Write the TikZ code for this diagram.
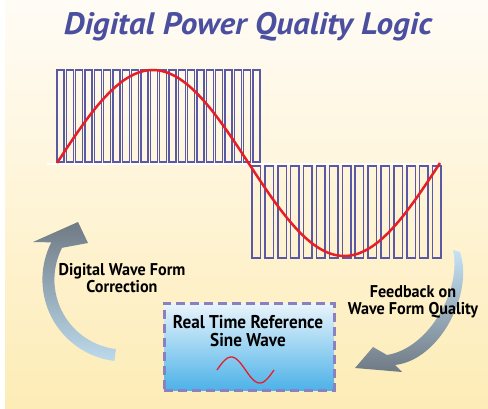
\documentclass[tikz,border=0pt]{standalone}
\usepackage{fontspec}
\setmainfont{PT Sans}
\newfontfamily\titlefont[FakeStretch=1.07]{PT Sans}
\newfontfamily\labfont[FakeStretch=0.95]{PT Sans}
\newfontfamily\boxfont[FakeStretch=0.93]{PT Sans}
\usetikzlibrary{calc}
\definecolor{bgtop}{HTML}{FFFCF6}
\definecolor{bgmid}{HTML}{FEF4D6}
\definecolor{bgbot}{HTML}{FDECB6}
\definecolor{pulsec}{HTML}{5A59A6}
\definecolor{titlec}{HTML}{4B4FA0}
\definecolor{sinec}{HTML}{E61E28}
\definecolor{boxborder}{HTML}{8B80C0}
\definecolor{boxtop}{HTML}{EAF5FC}
\definecolor{boxbot}{HTML}{4DB2E8}
\definecolor{arrgray}{HTML}{6F7A84}
\definecolor{arrblue}{HTML}{BCDAEC}
\definecolor{arrlight}{HTML}{C6E3F5}
\tikzset{
  pulse/.style={draw=pulsec, line width=1.5pt},
  sinewave/.style={draw=sinec, line width=2.5pt},
  titletext/.style={text=titlec, font=\titlefont\bfseries\itshape\fontsize{31}{31}\selectfont},
  labeltext/.style={text=black, align=center, font=\labfont\bfseries\fontsize{17}{16.5}\selectfont},
  boxtext/.style={text=black, align=center, font=\boxfont\bfseries\fontsize{18.5}{18}\selectfont},
  refbox/.style={draw=boxborder, line width=3pt, dash pattern=on 9pt off 5pt,
    top color=boxtop, bottom color=boxbot, minimum width=170pt, minimum height=87pt},
}
\begin{document}
\begin{tikzpicture}[x=1pt,y=1pt]
\useasboundingbox (0,0) rectangle (488,408);
\fill[white] (0,0) rectangle (488,408);
\shade[top color=bgtop, bottom color=bgbot, middle color=bgmid] (5,0) rectangle (488,408);

% title
\node[titletext] (title) at (248,381) {Digital Power Quality Logic};

% pulses
\foreach \i in {0,...,21} \draw[pulse] ({57+9.33*\i},246) rectangle ++(7,92);
\foreach \i in {0,...,14} \draw[pulse] ({252+12.9*\i},242) rectangle ++(8.5,-92);
\draw[white, line width=2.5pt] (47,244) -- (442,244);
\draw[sinewave] plot[domain=0:360, samples=120] ({57+\x/360*383},{245+93*sin(\x)});

% left arrow
\shade[top color=arrgray, bottom color=arrblue]
  (124.4,128.4) ++(263:82) arc[start angle=263, end angle=153, radius=82]
  -- (33,166) -- (78,186) -- (88,165)
  -- ($(124.4,128.4)+(153:70)$) arc[start angle=153, end angle=263, radius=70] -- cycle;

% right arrow
\shade[top color=arrlight, bottom color=arrgray]
  (453,158) -- (460,156) .. controls (474,115) and (440,48) .. (395,43)
  -- (402,36) -- (355,40) -- (373,61) -- (387,53)
  .. controls (430,60) and (462,120) .. (453,158) -- cycle;

% labels
\node[labeltext] (corr) at (122,130) {Digital Wave Form\\Correction};
\node[labeltext] (feed) at (413,106) {Feedback on\\Wave Form Quality};

% reference box
\node[refbox] (box) at (249,61.5) {};
\node[boxtext] (boxtxt) at (248,77) {Real Time Reference\\Sine Wave};
\draw[draw=sinec, line width=1.3pt] plot[domain=0:360, samples=60] ({217+\x/360*57},{38+13*sin(\x)});
\end{tikzpicture}
\end{document}
